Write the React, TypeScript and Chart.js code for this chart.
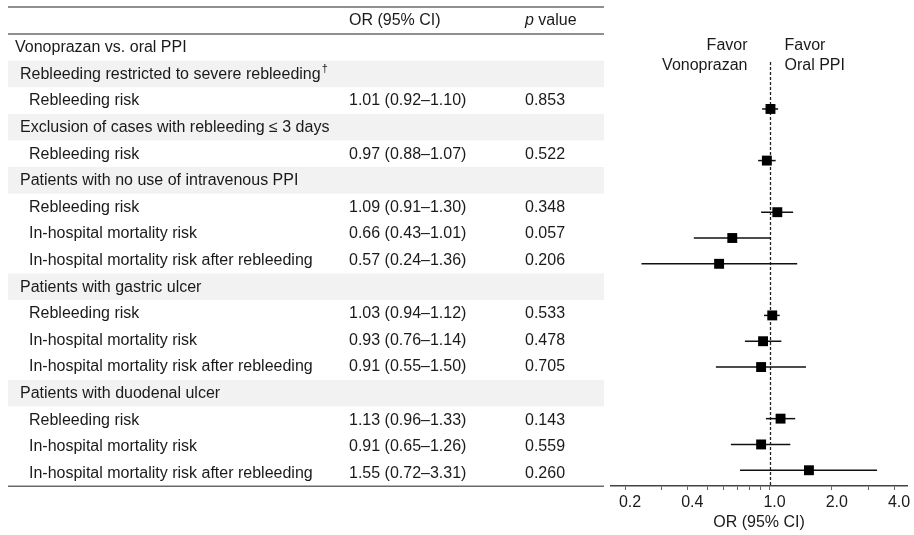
import { useEffect, useRef } from 'react';
import { Chart, registerables } from 'chart.js';

Chart.register(...registerables);

// ---------- data ----------
const ROW_LABELS = [
  'Vonoprazan vs. oral PPI',
  'Rebleeding restricted to severe rebleeding',
  'Rebleeding risk',
  'Exclusion of cases with rebleeding ≤ 3 days',
  'Rebleeding risk',
  'Patients with no use of intravenous PPI',
  'Rebleeding risk',
  'In-hospital mortality risk',
  'In-hospital mortality risk after rebleeding',
  'Patients with gastric ulcer',
  'Rebleeding risk',
  'In-hospital mortality risk',
  'In-hospital mortality risk after rebleeding',
  'Patients with duodenal ulcer',
  'Rebleeding risk',
  'In-hospital mortality risk',
  'In-hospital mortality risk after rebleeding',
];
const OR_VALUES = [null, null, 1.01, null, 0.97, null, 1.09, 0.66, 0.57, null, 1.03, 0.93, 0.91, null, 1.13, 0.91, 1.55];
const CI_LOWER = [null, null, 0.92, null, 0.88, null, 0.91, 0.43, 0.24, null, 0.94, 0.76, 0.55, null, 0.96, 0.65, 0.72];
const CI_UPPER = [null, null, 1.1, null, 1.07, null, 1.3, 1.01, 1.36, null, 1.12, 1.14, 1.5, null, 1.33, 1.26, 3.31];
const P_VALUES = ['', '', '0.853', '', '0.522', '', '0.348', '0.057', '0.206', '', '0.533', '0.478', '0.705', '', '0.143', '0.559', '0.260'];
const FOOTNOTE_ROWS = [1];
const COLUMN_HEADERS = ['OR (95% CI)', 'p value'];
const AXIS_TICKS = [0.2, 0.3, 0.4, 0.5, 0.6, 0.7, 0.8, 0.9, 1, 2, 3, 4];
const AXIS_LABELED = [0.2, 0.4, 1, 2, 4];
const AXIS_TITLE = 'OR (95% CI)';
const FAVOR_LEFT = ['Favor', 'Vonoprazan'];
const FAVOR_RIGHT = ['Favor', 'Oral PPI'];
const REFERENCE_OR = 1;

// ---------- layout / style ----------
const W = 914;
const H = 535;
const FONT = "'Liberation Sans', Arial, Helvetica, sans-serif";
const TEXT = '#1a1a1a';
const RULE = '#6a6a6a';
const SHADE = '#f2f2f2';
const TABLE_LEFT = 8;
const TABLE_RIGHT = 604;
const TABLE_TOP = 7;
const HEADER_BOTTOM = 34;
const ROW_H = 26.6;
const X_TITLE_ROW = 15;
const X_GROUP = 20;
const X_ITEM = 29;
const X_OR = 349;
const X_P = 525;

const fmt = (v: number) => v.toFixed(2);

const tablePlugin = {
  id: 'forestTable',
  beforeDraw(chart: any) {
    const ctx = chart.ctx as CanvasRenderingContext2D;
    ctx.save();
    // shaded group rows
    ROW_LABELS.forEach((_, i) => {
      if (i > 0 && OR_VALUES[i] === null) {
        ctx.fillStyle = SHADE;
        ctx.fillRect(TABLE_LEFT, HEADER_BOTTOM + ROW_H * i, TABLE_RIGHT - TABLE_LEFT, ROW_H);
      }
    });
    // rules
    ctx.strokeStyle = RULE;
    ctx.lineWidth = 1.5;
    const rule = (y: number) => {
      ctx.beginPath();
      ctx.moveTo(TABLE_LEFT, y);
      ctx.lineTo(TABLE_RIGHT, y);
      ctx.stroke();
    };
    rule(TABLE_TOP);
    rule(HEADER_BOTTOM);
    rule(HEADER_BOTTOM + ROW_H * ROW_LABELS.length);

    ctx.fillStyle = TEXT;
    ctx.textBaseline = 'middle';
    ctx.textAlign = 'left';
    const hy = (TABLE_TOP + HEADER_BOTTOM) / 2 + 0.5;
    ctx.font = `16px ${FONT}`;
    ctx.fillText(COLUMN_HEADERS[0], X_OR, hy);
    const [pWord, ...rest] = COLUMN_HEADERS[1].split(' ');
    ctx.font = `italic 16px ${FONT}`;
    ctx.fillText(pWord, X_P, hy);
    const pw = ctx.measureText(pWord).width;
    ctx.font = `16px ${FONT}`;
    ctx.fillText(' ' + rest.join(' '), X_P + pw, hy);

    ROW_LABELS.forEach((label, i) => {
      const y = HEADER_BOTTOM + ROW_H * (i + 0.5) + 0.5;
      const isItem = OR_VALUES[i] !== null;
      const x = i === 0 ? X_TITLE_ROW : isItem ? X_ITEM : X_GROUP;
      ctx.font = `16px ${FONT}`;
      ctx.fillText(label, x, y);
      if (FOOTNOTE_ROWS.includes(i)) {
        const w = ctx.measureText(label).width;
        ctx.font = `11px ${FONT}`;
        ctx.fillText('†', x + w + 1, y - 5);
        ctx.font = `16px ${FONT}`;
      }
      if (isItem) {
        ctx.fillText(`${fmt(OR_VALUES[i] as number)} (${fmt(CI_LOWER[i] as number)}–${fmt(CI_UPPER[i] as number)})`, X_OR, y);
        ctx.fillText(P_VALUES[i], X_P, y);
      }
    });
    ctx.restore();
  },
  beforeDatasetsDraw(chart: any) {
    const ctx = chart.ctx as CanvasRenderingContext2D;
    const { top, bottom } = chart.chartArea;
    const x = Math.round(chart.scales.x.getPixelForValue(REFERENCE_OR)) + 0.5;
    ctx.save();
    ctx.strokeStyle = '#222';
    ctx.lineWidth = 1.3;
    ctx.setLineDash([3, 2]);
    ctx.beginPath();
    ctx.moveTo(x, top);
    ctx.lineTo(x, bottom);
    ctx.stroke();
    ctx.setLineDash([]);
    ctx.fillStyle = TEXT;
    ctx.font = `16px ${FONT}`;
    ctx.textBaseline = 'middle';
    ctx.textAlign = 'right';
    ctx.fillText(FAVOR_LEFT[0], x - 23, 46);
    ctx.fillText(FAVOR_LEFT[1], x - 23, 66);
    ctx.textAlign = 'left';
    ctx.fillText(FAVOR_RIGHT[0], x + 14, 46);
    ctx.fillText(FAVOR_RIGHT[1], x + 14, 66);
    ctx.restore();
  },
};

export default function App() {
  const ref = useRef<HTMLCanvasElement | null>(null);

  useEffect(() => {
    if (!ref.current) return;
    const rows = ROW_LABELS.map((_, i) => i).filter((i) => OR_VALUES[i] !== null);
    const pointData = rows.map((i) => ({ x: OR_VALUES[i] as number, y: i }));
    const ciDatasets = rows.map((i) => ({
      type: 'scatter' as const,
      data: [
        { x: CI_LOWER[i] as number, y: i },
        { x: CI_UPPER[i] as number, y: i },
      ],
      showLine: true,
      borderColor: '#111',
      borderWidth: 1.5,
      pointRadius: 0,
      order: 1,
    }));

    const chart = new Chart(ref.current, {
      type: 'scatter',
      data: {
        datasets: [
          {
            data: pointData,
            pointStyle: 'rect',
            pointRadius: 7,
            pointBorderWidth: 0,
            backgroundColor: '#000',
            borderColor: '#000',
            order: 0,
          } as any,
          ...ciDatasets,
        ],
      },
      options: {
        animation: false,
        responsive: true,
        maintainAspectRatio: false,
        devicePixelRatio: 1,
        layout: { padding: { left: 611, right: 4, top: 62, bottom: 0 } },
        plugins: { legend: { display: false }, tooltip: { enabled: false } },
        scales: {
          x: {
            type: 'logarithmic',
            min: 0.171,
            max: 4.62,
            afterBuildTicks: (s: any) => {
              s.ticks = AXIS_TICKS.map((v) => ({ value: v }));
            },
            afterFit: (s: any) => {
              s.height = 49;
            },
            ticks: {
              autoSkip: false,
              maxRotation: 0,
              minRotation: 0,
              padding: 3,
              labelOffset: 5,
              color: TEXT,
              font: { family: FONT, size: 16 },
              callback: (v: any) => (AXIS_LABELED.includes(Number(v)) ? Number(v).toFixed(1) : ''),
            },
            grid: { drawOnChartArea: false, drawTicks: true, tickLength: 4, color: '#666', lineWidth: 1 },
            border: { display: true, color: '#444', width: 1.5 },
            title: {
              display: true,
              text: AXIS_TITLE,
              color: TEXT,
              font: { family: FONT, size: 16 },
              padding: { top: 2, bottom: 3 },
            },
          },
          y: { type: 'linear', display: false, reverse: true, min: 0.18, max: 16.61 },
        },
      },
      plugins: [tablePlugin],
    } as any);
    return () => chart.destroy();
  }, []);

  return (
    <div style={{ position: 'fixed', left: 0, top: 0, width: W, height: H, background: '#fff' }}>
      <canvas ref={ref} />
    </div>
  );
}
